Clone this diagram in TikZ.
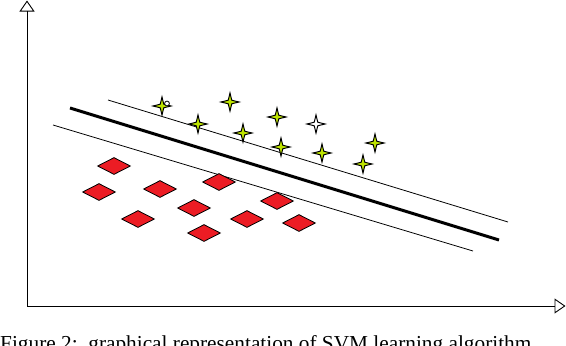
\documentclass[tikz,border=0pt]{standalone}
\usepackage{fontspec}
\setmainfont{Liberation Serif}
\usetikzlibrary{shapes.geometric,arrows.meta}
\definecolor{lime}{RGB}{190,228,0}
\definecolor{dred}{RGB}{236,28,36}
\tikzset{
  axis/.style={line width=0.9pt,-{Triangle[open,length=11pt,width=15pt,line width=0.9pt]}},
  thin/.style={line width=0.8pt},
  thick/.style={line width=3pt},
  starpt/.style={star,star points=4,star point ratio=3.6,minimum size=18pt,inner sep=0pt,
    draw=black,line width=1pt,fill=lime},
  hollow/.style={starpt,fill=white},
  dia/.style={diamond,minimum width=33pt,minimum height=17pt,inner sep=0pt,
    draw=black,line width=0.8pt,fill=dred},
}
\begin{document}
\begin{tikzpicture}[x=1pt,y=-1pt]
\useasboundingbox (0,0) rectangle (566,346);
% axes
\coordinate (o) at (27,306);
\coordinate (ytop) at (27,0.5);
\coordinate (xend) at (565.5,306);
\draw[axis] (o) -- (ytop);
\draw[axis] (o) -- (xend);
% separating lines
\coordinate (u1) at (108,100); \coordinate (u2) at (508,222);
\coordinate (m1) at (70,108);  \coordinate (m2) at (499,240);
\coordinate (l1) at (53,125);  \coordinate (l2) at (473,251);
\draw[thin] (u1) -- (u2);
\draw[thick] (m1) -- (m2);
\draw[thin] (l1) -- (l2);
% stars
\node[starpt] (s1) at (162,106) {};
\node[starpt] (s2) at (230,102) {};
\node[starpt] (s3) at (277,117) {};
\node[hollow] (s4) at (316,124) {};
\node[starpt] (s5) at (198,124) {};
\node[starpt] (s6) at (243,133) {};
\node[starpt] (s7) at (281,147) {};
\node[starpt] (s8) at (322,153) {};
\node[starpt] (s9) at (375,143) {};
\node[starpt] (s10) at (363,164) {};
\draw[line width=0.8pt,fill=white] (167,103.5) circle (2.4pt);
% diamonds
\node[dia] (d1) at (114,166) {};
\node[dia] (d2) at (99,192) {};
\node[dia] (d3) at (160,189) {};
\node[dia] (d4) at (219,182) {};
\node[dia] (d5) at (194,208) {};
\node[dia] (d6) at (277,201) {};
\node[dia] (d7) at (138,219) {};
\node[dia] (d8) at (247,219) {};
\node[dia] (d9) at (299,223) {};
\node[dia] (d10) at (204,233) {};
% caption
\node[anchor=base west,inner sep=0pt,font=\fontsize{21.3}{24}\selectfont] (cap) at (0,350)
  {Figure 2:~~graphical representation of SVM learning algorithm};
\end{tikzpicture}
\end{document}
